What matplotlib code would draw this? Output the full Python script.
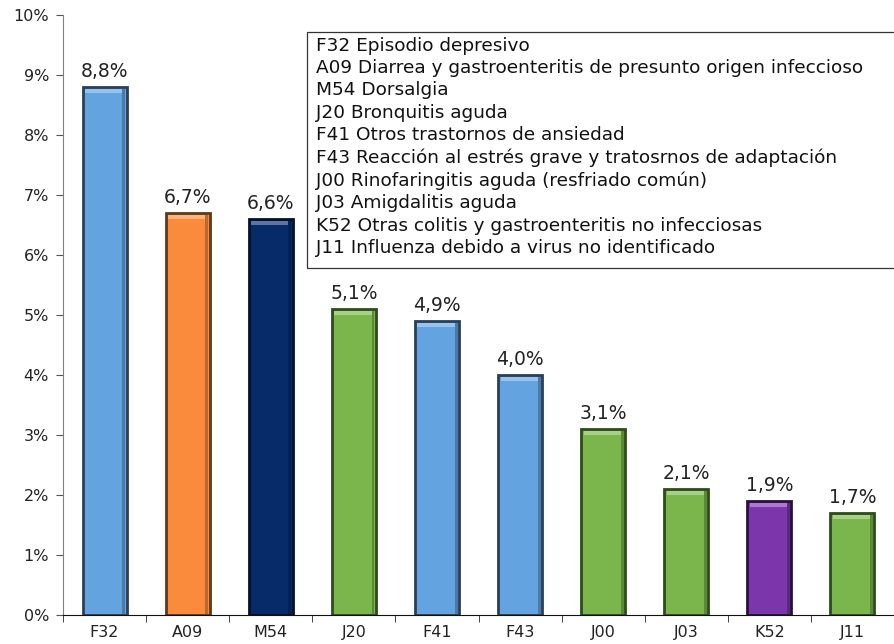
import matplotlib.pyplot as plt
import numpy as np
from matplotlib.ticker import FixedLocator, FuncFormatter
from matplotlib.patches import Rectangle
from matplotlib.colors import to_rgb

codes = ['F32', 'A09', 'M54', 'J20', 'F41', 'F43', 'J00', 'J03', 'K52', 'J11']
values = [8.8, 6.7, 6.6, 5.1, 4.9, 4.0, 3.1, 2.1, 1.9, 1.7]
labels = ['8,8%', '6,7%', '6,6%', '5,1%', '4,9%', '4,0%', '3,1%', '2,1%', '1,9%', '1,7%']
descriptions = [
    'F32 Episodio depresivo',
    'A09 Diarrea y gastroenteritis de presunto origen infeccioso',
    'M54 Dorsalgia',
    'J20 Bronquitis aguda',
    'F41 Otros trastornos de ansiedad',
    'F43 Reacción al estrés grave y tratosrnos de adaptación',
    'J00 Rinofaringitis aguda (resfriado común)',
    'J03 Amigdalitis aguda',
    'K52 Otras colitis y gastroenteritis no infecciosas',
    'J11 Influenza debido a virus no identificado',
]

# colour per bar, and the darker shade used for its edge
blue, orange, navy, green, purple = '#62a3e0', '#fa8a3c', '#072a68', '#7bb64c', '#7a36aa'
edges = {blue: '#2c3e55', orange: '#5e3a1c', navy: '#02122e', green: '#2f4a1d', purple: '#2a1040'}
colors = [blue, orange, navy, green, blue, blue, green, green, purple, green]


def mix(c, other, t):
    a, b = np.array(to_rgb(c)), np.array(to_rgb(other))
    return tuple(a * (1 - t) + b * t)


plt.rcParams['font.family'] = ['DejaVu Sans']

fig = plt.figure(figsize=(8.94, 6.44), dpi=100)
ax = fig.add_axes([63 / 894, 29 / 644, 831 / 894, 600 / 644])

x = np.arange(len(codes))
w = 0.53
bars = ax.bar(x, values, width=w, color=colors,
              edgecolor=[edges[c] for c in colors], linewidth=2, zorder=2)

# bevel: light strip at the top, shade on the right side
vals = np.array(values)
ax.bar(x, 0.06, bottom=vals - 0.1, width=w - 0.06,
       color=[mix(c, 'white', 0.35) for c in colors], linewidth=0, zorder=3)
ax.bar(x + w / 2 - 0.035, vals - 0.06, bottom=0.02, width=0.035,
       color=[mix(c, 'black', 0.25) for c in colors], linewidth=0, zorder=3)

for b, lab in zip(bars, labels):
    ax.annotate(lab, (b.get_x() + b.get_width() / 2, b.get_height()),
                xytext=(0, 4), textcoords='offset points',
                ha='center', va='bottom', fontsize=13.5, color='#222222')

ax.set_xlim(-0.5, len(codes) - 0.5)
ax.set_ylim(0, 10)
ax.set_yticks(range(0, 11))
ax.yaxis.set_major_formatter(FuncFormatter(lambda v, p: f'{int(v)}%'))
ax.set_xticks(x)
ax.set_xticklabels(codes)
ax.xaxis.set_minor_locator(FixedLocator(np.arange(-0.5, len(codes), 1.0)))
ax.tick_params(axis='x', which='major', length=0, pad=7, labelsize=11.5, labelcolor='#222222')
ax.tick_params(axis='x', which='minor', length=5, direction='out', color='#222222')
ax.tick_params(axis='y', length=5, direction='out', color='#555555', labelsize=11.5,
               labelcolor='#222222', pad=5)

ax.spines['top'].set_visible(False)
ax.spines['right'].set_visible(False)
ax.spines['left'].set_color('#808080')
ax.spines['bottom'].set_color('#111111')
ax.spines['bottom'].set_zorder(4)

# description box
ax.add_patch(Rectangle((0.294, 0.578), 0.71, 0.394, transform=ax.transAxes,
                       facecolor='white', edgecolor='#333333', linewidth=0.9,
                       zorder=5, clip_on=False))
ax.text(0.304, 0.964, '\n'.join(descriptions), transform=ax.transAxes,
        ha='left', va='top', fontsize=13.3, linespacing=1.31, color='#111111', zorder=6)

fig.savefig('out.png', dpi=100)
